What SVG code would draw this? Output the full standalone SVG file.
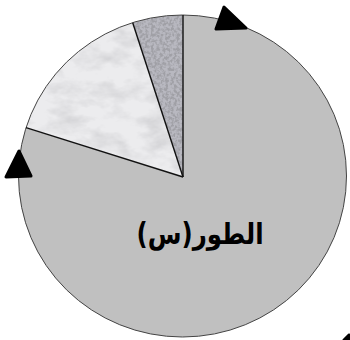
<svg xmlns="http://www.w3.org/2000/svg" width="350" height="340" viewBox="0 0 350 340">
<style>
.sep{stroke:#111;stroke-width:1.4;fill:none}
.arrow{fill:#000;stroke:#000;stroke-width:3;stroke-linejoin:round}
.lbl{font-family:"DejaVu Sans","Liberation Sans",sans-serif;font-weight:bold;font-size:24.5px;fill:#000}
</style>
<defs>
<filter id="speckle" x="0" y="0" width="100%" height="100%">
<feTurbulence type="fractalNoise" baseFrequency="0.35" numOctaves="2" seed="3" result="n"/>
<feColorMatrix in="n" type="matrix" values="0 0 0 0 0.35  0 0 0 0 0.35  0 0 0 0 0.38  4 0 0 0 -1.6"/>
</filter>
<filter id="marble" x="0" y="0" width="100%" height="100%">
<feTurbulence type="fractalNoise" baseFrequency="0.035 0.06" numOctaves="4" seed="7" result="n"/>
<feColorMatrix in="n" type="matrix" values="0 0 0 0 0.6  0 0 0 0 0.6  0 0 0 0 0.62  1.8 0 0 0 -0.75"/>
</filter>
<clipPath id="clipDark"><path d="M183,177 L132.7,22.7 A164,161 0 0 1 183,15 Z"/></clipPath>
<clipPath id="clipLight"><path d="M183,177 L26,127.7 A164,161 0 0 1 132.7,22.7 Z"/></clipPath>
</defs>
<rect width="350" height="340" fill="#fff"/>
<g id="pie">
<g id="sector-main">
<path d="M183,177 L183,15 A164,161 0 1 1 26,127.7 Z" fill="#c0c0c0"/>
</g>
<g id="sector-light">
<path d="M183,177 L26,127.7 A164,161 0 0 1 132.7,22.7 Z" fill="#ececee"/>
<rect x="20" y="15" width="170" height="165" filter="url(#marble)" clip-path="url(#clipLight)"/>
</g>
<g id="sector-dark">
<path d="M183,177 L132.7,22.7 A164,161 0 0 1 183,15 Z" fill="#b8b8c0"/>
<rect x="125" y="10" width="62" height="170" filter="url(#speckle)" clip-path="url(#clipDark)"/>
</g>
<ellipse cx="182.5" cy="176" rx="164" ry="161" fill="none" stroke="#444" stroke-width="1"/>
</g>
<g id="connectors">
<path class="sep" d="M183,177 L183,15"/>
<path class="sep" d="M183,177 L132.7,22.7"/>
<path class="sep" d="M183,177 L26,127.7"/>
<polygon class="arrow" points="224,7 216,29 246,28"/>
<polygon class="arrow" points="19,151 6,177 31,176"/>
<polygon class="arrow" points="349,335 344,340 350,340"/>
</g>
<g id="label">
<text class="lbl" transform="translate(200,244) scale(1,1.2)" x="0" y="0" text-anchor="middle" direction="rtl">الطور(س)</text>
</g>
</svg>
